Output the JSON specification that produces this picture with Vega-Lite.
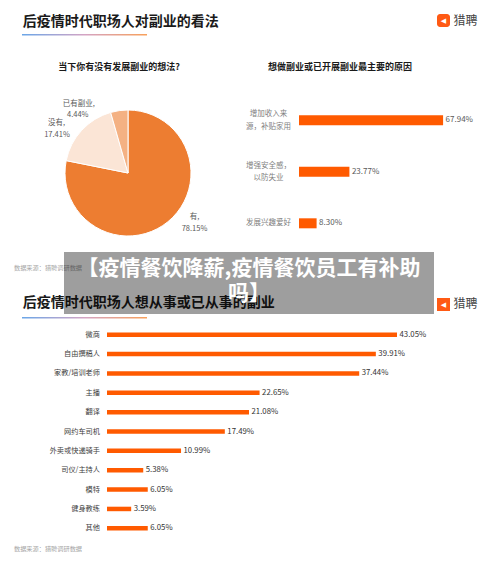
{
  "$schema": "https://vega.github.io/schema/vega-lite/v6.json",
  "background": "white",
  "padding": 0,
  "spacing": 0,
  "config": {"view": {"stroke": null}, "font": "Noto Sans CJK SC", "concat": {"spacing": 0}},
  "vconcat": [
    {"width": 1, "height": 14, "data": {"values": []}, "mark": "point"},
    {
      "bounds": "flush", "spacing": 0,
      "hconcat": [
        {"width": 437, "height": 20, "data": {"values": [{}]},
         "mark": {"type": "text", "text": "后疫情时代职场人对副业的看法", "align": "left", "baseline": "middle", "dx": -195.8, "dy": -2.3, "fontSize": 14, "fontWeight": "bold", "color": "#1a1a1a"}},
        {"width": 13, "height": 13, "data": {"values": [{}]},
         "view": {"fill": "#ff5a14", "cornerRadius": 3},
         "layer": [
           {"mark": {"type": "text", "text": "◀", "color": "white", "fontSize": 7, "font": "DejaVu Sans", "align": "center", "baseline": "middle"}},
           {"mark": {"type": "text", "text": "猎聘", "color": "#444444", "fontSize": 12, "align": "left", "baseline": "middle", "dx": 10, "dy": 0.5}}
         ]}
      ]
    },
    {
      "bounds": "flush", "spacing": 0,
      "hconcat": [
        {"width": 22, "height": 1.5, "data": {"values": []}, "mark": "point"},
        {"width": 125, "height": 1.5, "data": {"values": []}, "mark": "point",
         "view": {"fill": {"gradient": "linear", "x1": 0, "y1": 0, "x2": 1, "y2": 0, "stops": [{"offset": 0, "color": "#6aa6e8"}, {"offset": 0.5, "color": "#d4a4c4"}, {"offset": 1, "color": "#f8a05a"}]}}}
      ]
    },
    {"width": 500, "height": 57.5, "data": {"values": [{}]},
     "layer": [
       {"mark": {"type": "text", "text": "当下你有没有发展副业的想法?", "align": "center", "baseline": "middle", "dx": -131, "dy": 1.75, "fontSize": 9, "fontWeight": "bold", "color": "#1a1a1a"}},
       {"mark": {"type": "text", "text": "想做副业或已开展副业最主要的原因", "align": "left", "baseline": "middle", "dx": 18, "dy": 1.75, "fontSize": 9, "fontWeight": "bold", "color": "#1a1a1a"}}
     ]},
    {
      "bounds": "flush", "spacing": 43,
      "hconcat": [
        {
          "width": 256, "height": 158,
          "data": {"values": [
            {"answer": "有", "label": "有,", "share": 0.7815},
            {"answer": "没有", "label": "没有,", "share": 0.1741},
            {"answer": "已有副业", "label": "已有副业,", "share": 0.0444}
          ]},
          "layer": [
            {"mark": {"type": "arc", "outerRadius": 63, "stroke": "white", "strokeWidth": 1},
             "encoding": {
               "theta": {"field": "share", "type": "quantitative", "stack": true},
               "order": {"field": "share", "sort": "descending"},
               "color": {"field": "answer", "type": "nominal", "scale": {"domain": ["有", "没有", "已有副业"], "range": ["#ED7D31", "#FBE5D6", "#F4B183"]}, "legend": null}}},
            {"transform": [{"filter": "datum.answer === '有'"}],
             "layer": [
               {"mark": {"type": "text", "dx": 66.5, "dy": 44, "fontSize": 7.5, "color": "#595959"}, "encoding": {"text": {"field": "label"}}},
               {"mark": {"type": "text", "dx": 66.5, "dy": 56, "fontSize": 7.5, "color": "#595959"}, "encoding": {"text": {"field": "share", "type": "quantitative", "format": ".2%"}}}
             ]},
            {"transform": [{"filter": "datum.answer === '没有'"}],
             "layer": [
               {"mark": {"type": "text", "dx": -71.5, "dy": -50.3, "fontSize": 7.5, "color": "#595959"}, "encoding": {"text": {"field": "label"}}},
               {"mark": {"type": "text", "dx": -71, "dy": -38.3, "fontSize": 7.5, "color": "#595959"}, "encoding": {"text": {"field": "share", "type": "quantitative", "format": ".2%"}}}
             ]},
            {"transform": [{"filter": "datum.answer === '已有副业'"}],
             "layer": [
               {"mark": {"type": "text", "dx": -49.2, "dy": -69.3, "fontSize": 7.5, "color": "#595959"}, "encoding": {"text": {"field": "label"}}},
               {"mark": {"type": "text", "dx": -50.3, "dy": -58, "fontSize": 7.5, "color": "#595959"}, "encoding": {"text": {"field": "share", "type": "quantitative", "format": ".2%"}}}
             ]}
          ]
        },
        {
          "width": 200, "height": 158,
          "data": {"values": [
            {"reason": "增加收入来\n源，补贴家用", "share": 0.6794},
            {"reason": "增强安全感，\n以防失业", "share": 0.2377},
            {"reason": "发展兴趣爱好", "share": 0.0830}
          ]},
          "encoding": {
            "y": {"field": "reason", "type": "nominal", "sort": null,
                  "scale": {"paddingInner": 0, "paddingOuter": 0.034, "align": 0.16},
                  "axis": {"title": null, "domain": false, "ticks": false, "tickSize": 0, "labelPadding": 31, "labelAlign": "center", "labelFontSize": 7.5, "labelColor": "#7f7f7f", "labelLineHeight": 12.4,
                           "labelOffset": {"condition": {"test": "indexof(datum.value, '\\n') >= 0", "value": -6.2}, "value": 0},
                           "labelExpr": "split(datum.label, '\\n')"}},
            "x": {"field": "share", "type": "quantitative", "scale": {"domain": [0, 0.943], "nice": false}, "axis": null}
          },
          "layer": [
            {"mark": {"type": "bar", "height": 10, "color": "#FF5A00"}},
            {"mark": {"type": "text", "align": "left", "baseline": "middle", "dx": 2.5, "fontSize": 8, "color": "#595959"},
             "encoding": {"text": {"field": "share", "type": "quantitative", "format": ".2%"}}}
          ]
        }
      ]
    },
    {
      "bounds": "flush", "spacing": 0,
      "hconcat": [
        {"width": 64, "height": 62, "data": {"values": [{}]},
         "layer": [
           {"mark": {"type": "text", "text": "数据来源：猎聘调研数据", "align": "left", "baseline": "middle", "dx": -18, "dy": -15.3, "fontSize": 6.2, "color": "#a6a6a6"}},
           {"mark": {"type": "text", "text": "后疫情时代职场人想从事或已从事的副业", "align": "left", "baseline": "middle", "dx": -9.3, "dy": 20, "fontSize": 14, "fontWeight": "bold", "color": "#1a1a1a"}}
         ]},
        {"width": 370, "height": 62, "data": {"values": [{}]},
         "mark": {"type": "text", "text": ["【疫情餐饮降薪,疫情餐饮员工有补助", "吗】"], "lineHeight": 25, "fontSize": 21, "fontWeight": "bold", "color": "white", "align": "center", "baseline": "middle", "dy": -14},
         "view": {"fill": "black", "fillOpacity": 0.38}},
        {"width": 3, "height": 62, "data": {"values": []}, "mark": "point"},
        {"width": 13, "height": 62, "data": {"values": [{}]},
         "view": {"fill": {"gradient": "linear", "x1": 0, "y1": 0, "x2": 0, "y2": 1, "stops": [{"offset": 0, "color": "rgba(255,90,20,0)"}, {"offset": 0.742, "color": "rgba(255,90,20,0)"}, {"offset": 0.742, "color": "#ff5a14"}, {"offset": 0.952, "color": "#ff5a14"}, {"offset": 0.952, "color": "rgba(255,90,20,0)"}, {"offset": 1, "color": "rgba(255,90,20,0)"}]}},
         "layer": [
           {"mark": {"type": "text", "text": "◀", "color": "white", "fontSize": 7, "font": "DejaVu Sans", "align": "center", "baseline": "middle", "dy": 21.5}},
           {"mark": {"type": "text", "text": "猎聘", "color": "#444444", "fontSize": 12, "align": "left", "baseline": "middle", "dx": 10, "dy": 21}}
         ]}
      ]
    },
    {"width": 1, "height": 2.2, "data": {"values": []}, "mark": "point"},
    {
      "bounds": "flush", "spacing": 0,
      "hconcat": [
        {"width": 22, "height": 1.5, "data": {"values": []}, "mark": "point"},
        {"width": 125, "height": 1.5, "data": {"values": []}, "mark": "point",
         "view": {"fill": {"gradient": "linear", "x1": 0, "y1": 0, "x2": 1, "y2": 0, "stops": [{"offset": 0, "color": "#6aa6e8"}, {"offset": 0.5, "color": "#d4a4c4"}, {"offset": 1, "color": "#f8a05a"}]}}}
      ]
    },
    {"width": 1, "height": 6, "data": {"values": []}, "mark": "point"},
    {
      "bounds": "flush", "spacing": 0,
      "hconcat": [
        {"width": 107, "height": 213, "data": {"values": []}, "mark": "point"},
        {
          "width": 393, "height": 213,
          "title": {"text": "数据来源：猎聘调研数据", "orient": "bottom", "anchor": "start", "frame": "group", "dx": -93, "offset": 10.7, "baseline": "middle", "fontSize": 6.2, "fontWeight": "normal", "color": "#a6a6a6"},
          "data": {"values": [
            {"job": "微商", "share": 0.4305},
            {"job": "自由撰稿人", "share": 0.3991},
            {"job": "家教/培训老师", "share": 0.3744},
            {"job": "主播", "share": 0.2265},
            {"job": "翻译", "share": 0.2108},
            {"job": "网约车司机", "share": 0.1749},
            {"job": "外卖或快递骑手", "share": 0.1099},
            {"job": "司仪/主持人", "share": 0.0538},
            {"job": "模特", "share": 0.0605},
            {"job": "健身教练", "share": 0.0359},
            {"job": "其他", "share": 0.0605}
          ]},
          "encoding": {
            "y": {"field": "job", "type": "nominal", "sort": null,
                  "scale": {"paddingInner": 0, "paddingOuter": 0},
                  "axis": {"title": null, "domain": false, "ticks": false, "tickSize": 0, "labelPadding": 7.5, "labelFontSize": 7.2, "labelColor": "#404040"}},
            "x": {"field": "share", "type": "quantitative", "scale": {"domain": [0, 0.5834], "nice": false}, "axis": null}
          },
          "layer": [
            {"mark": {"type": "bar", "height": 4.5, "color": "#FF5A00"}},
            {"mark": {"type": "text", "align": "left", "baseline": "middle", "dx": 2.5, "fontSize": 7.8, "color": "#333333"},
             "encoding": {"text": {"field": "share", "type": "quantitative", "format": ".2%"}}}
          ]
        }
      ]
    }
  ]
}
